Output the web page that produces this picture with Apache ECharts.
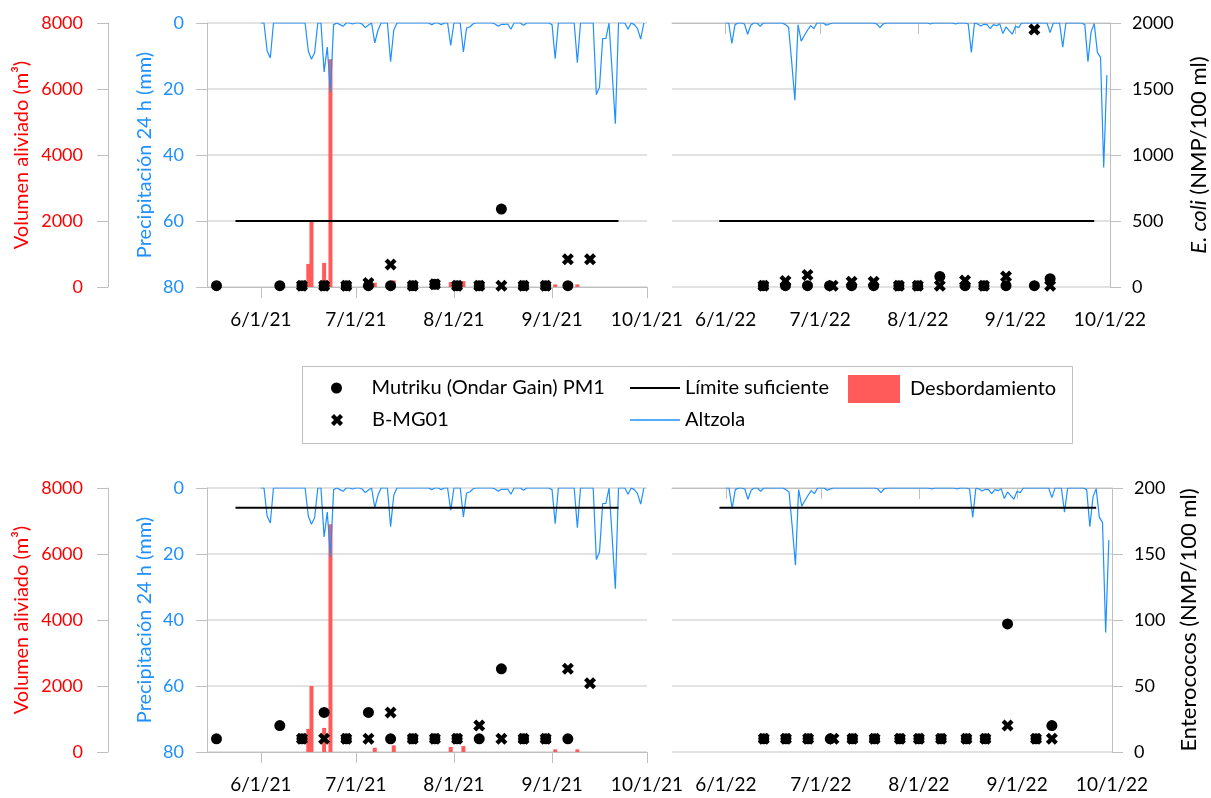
<!DOCTYPE html>
<html><head><meta charset="utf-8">
<script src="https://cdn.jsdelivr.net/npm/echarts@6/dist/echarts.min.js"></script>
<style>html,body{margin:0;padding:0;background:#fff}#c{width:1211px;height:798px}</style>
</head><body><div id="c"></div><script>
// ---------------- DATA ----------------
// Daily precipitation at Altzola (mm), 1 June .. 30 September
const precip2021 = [
 0,0,8.5,10.6,0,0,0,0,0,0, 0,0,0,0,0,8.5,11,9,0,0,
 14.8,7.3,20.9,0.5,0,0.5,1,0,0,0.3, 0,0,0.3,1.4,0.6,0,6,2.2,0,0,
 0,11.7,2.2,0,0,0,0,0,0,0, 0,0,0,0,0.5,0,0,0.5,0,0,
 6.8,0,0,0,8.8,1.5,1.2,0.3,0,0, 0,0,0,0,0.3,1,0.4,0.4,0.3,1.9,
 0,0,0,0.7,0,0,0,0,0,0, 0,0,0.5,10.8,0,0,0,0,0,0,
 12,0,0,0,0,0,21.7,19.4,4.7,4.7, 0,15,30.5,0,0,0,1.9,0,0.5,1.7,
 4.9,0
];
const precip2022 = [
 0,0,6.2,0.5,0,0,0.3,3.4,0.7,0, 0,1,0,0,0,0,0,0,0,0.5,
 1.3,12,23.4,0.5,5.5,3.8,2.2,0.8,1.7,0, 0,0,0.7,0.3,0,0,0,0,0,0,
 0,0,0,0,0,0,0,0,0.3,1.4, 0.3,0,0,0,0,0,0,0,0,0,
 0,0,0,0,0,0.3,0,0,0,0, 0,0,0,0.3,0,0,0,0.3,8.9,0,
 0.3,0.9,0.4,0.5,1.7,0.5,0.8,0.2,3.2,1.2, 2.3,3.4,1.0,1.4,0,0,0,0,0,0,
 0,0,0,2.9,0,0,0,7.3,0,0, 0,0,0,0,0.5,11.7,2.7,0.2,8.9,10.4,
 43.8,15.8
];
// Overflow volume (m3)
const overflowDates2021 = ['2021-06-16','2021-06-17','2021-06-21','2021-06-23','2021-07-07','2021-07-13','2021-07-31','2021-08-04','2021-09-02','2021-09-09'];
const overflowValues2021 = [700, 2000, 730, 6900, 130, 200, 150, 180, 80, 80];

// Mutriku (Ondar Gain) PM1 samples
const mutrikuDates2021 = ['2021-05-18','2021-06-07','2021-06-14','2021-06-21','2021-06-28','2021-07-05','2021-07-12','2021-07-19','2021-07-26','2021-08-02','2021-08-09','2021-08-16','2021-08-23','2021-08-30','2021-09-06'];
const mutrikuEcoli2021 = [10,10,10,10,10,10,10,10,20,10,10,590,10,10,10];
const mutrikuEntero2021 = [10,20,10,30,10,30,10,10,10,10,10,63,10,10,10];
const mutrikuDates2022 = ['2022-06-13','2022-06-20','2022-06-27','2022-07-04','2022-07-11','2022-07-18','2022-07-26','2022-08-01','2022-08-08','2022-08-16','2022-08-22','2022-08-29','2022-09-07','2022-09-12'];
const mutrikuEcoli2022 = [10,10,10,10,10,10,10,10,80,10,10,10,10,63];
const mutrikuEntero2022 = [10,10,10,10,10,10,10,10,10,10,10,97,10,20];

// B-MG01 samples
const bmgDates2021 = ['2021-06-14','2021-06-21','2021-06-28','2021-07-05','2021-07-12','2021-07-19','2021-07-26','2021-08-02','2021-08-09','2021-08-16','2021-08-23','2021-08-30','2021-09-06','2021-09-13'];
const bmgEcoli2021 = [10,10,10,30,170,10,20,10,10,10,10,10,210,210];
const bmgEntero2021 = [10,10,10,10,30,10,10,10,20,10,10,10,63,52];
const bmgDates2022 = ['2022-06-13','2022-06-20','2022-06-27','2022-07-05','2022-07-11','2022-07-18','2022-07-26','2022-08-01','2022-08-08','2022-08-16','2022-08-22','2022-08-29','2022-09-07','2022-09-12'];
const bmgEcoli2022 = [10,45,90,10,40,40,10,10,10,50,10,80,1950,10];
const bmgEntero2022 = [10,10,10,10,10,10,10,10,10,10,10,20,10,10];

// "Límite suficiente"
const limitDates2021 = ['2021-05-24','2021-09-22'];
const limitDates2022 = ['2022-05-30','2022-09-26'];
const ecoliLimit = 500;
const enteroLimit = 185;

// ---------------- CHART ----------------
const FONT = 'Lato, sans-serif';
const RED = '#ff0000', BLUE = '#1e90ff', BAR = '#ff5b5b', GREY = '#bfbfbf', GRID = '#d9d9d9';
const XPATH = 'path://M0,3 L3,0 L6,3 L9,0 L12,3 L9,6 L12,9 L9,12 L6,9 L3,12 L0,9 L3,6 Z';

function cats(year) {
  const out = [];
  let t = Date.UTC(year, 4, 15);
  const end = Date.UTC(year, 9, 1);
  while (t <= end) { out.push(new Date(t).toISOString().slice(0, 10)); t += 86400000; }
  return out;
}
const cats21 = cats(2021), cats22 = cats(2022);
const JUNE1 = 17;
const pairs = (dates, vals) => dates.map((d, i) => [d, vals[i]]);
const precipPairs = (c, arr) => arr.map((v, i) => [c[JUNE1 + i], v]);

const isMonth = (i, v) => typeof v === 'string' && v.slice(8) === '01' && v.slice(5, 7) !== '05';
const fmtDate = v => { const p = v.split('-'); return (+p[1]) + '/' + (+p[2]) + '/' + p[0].slice(2); };
const plain = v => String(v);

function xAxis(gi, c) {
  return {
    type: 'category', gridIndex: gi, data: c, boundaryGap: false,
    axisLine: { lineStyle: { color: GREY, width: 1 } },
    axisTick: { interval: isMonth, length: 11, lineStyle: { color: GREY } },
    axisLabel: { interval: isMonth, formatter: fmtDate, fontSize: 19, fontFamily: FONT, color: '#000', margin: 23 },
    splitLine: { show: false }
  };
}
const nameStyle = (color, size) => ({ fontSize: size, fontFamily: FONT, color: color });
function volAxis(gi) {
  return {
    type: 'value', gridIndex: gi, position: 'left', offset: 99, min: 0, max: 8000, interval: 2000,
    name: 'Volumen aliviado (m³)', nameLocation: 'middle', nameRotate: 90, nameGap: 76,
    nameTextStyle: nameStyle(RED, 20),
    axisLine: { show: true, lineStyle: { color: GREY } },
    axisTick: { show: true, length: 11, lineStyle: { color: GREY } },
    axisLabel: { color: RED, fontSize: 18, fontFamily: FONT, margin: 25, formatter: plain },
    splitLine: { show: false }
  };
}
function precipAxis(gi, visible) {
  return {
    type: 'value', gridIndex: gi, position: 'left', inverse: true, min: 0, max: 80, interval: 20,
    show: visible,
    name: 'Precipitación 24 h (mm)', nameLocation: 'middle', nameRotate: 90, nameGap: 52,
    nameTextStyle: nameStyle(BLUE, 20),
    axisLine: { show: true, lineStyle: { color: GREY } },
    axisTick: { show: true, length: 11, lineStyle: { color: GREY } },
    axisLabel: { color: BLUE, fontSize: 18, fontFamily: FONT, margin: 23, formatter: plain },
    splitLine: { show: true, lineStyle: { color: GRID, width: 1.5 } }
  };
}
function bactAxis(gi, visible, max, interval, name, gap) {
  return {
    type: 'value', gridIndex: gi, position: 'right', min: 0, max: max, interval: interval,
    show: visible,
    name: name, nameLocation: 'middle', nameRotate: 90, nameGap: gap,
    nameTextStyle: Object.assign(nameStyle('#000', 22), { rich: { i: { fontStyle: 'italic', fontSize: 22, fontFamily: FONT, color: '#000' } } }),
    axisLine: { show: true, lineStyle: { color: GREY } },
    axisTick: { show: true, length: 11, lineStyle: { color: GREY } },
    axisLabel: { color: '#000', fontSize: 18, fontFamily: FONT, margin: 22, formatter: plain },
    splitLine: { show: visible, lineStyle: { color: GRID, width: 1.5 } }
  };
}

const NAME_M = 'Mutriku (Ondar Gain) PM1', NAME_B = 'B-MG01', NAME_L = 'Límite suficiente', NAME_D = 'Desbordamiento', NAME_A = 'Altzola';

function panelSeries(xi, yVol, yPrec, yBact, precip, over, mut, bmg, limit) {
  const s = [];
  if (over) s.push({ type: 'bar', name: NAME_D, xAxisIndex: xi, yAxisIndex: yVol, data: over, barWidth: 4, itemStyle: { color: BAR, opacity: 1 }, z: 2, silent: true });
  s.push({ type: 'line', name: NAME_A, xAxisIndex: xi, yAxisIndex: yPrec, data: precip, symbol: 'none', lineStyle: { color: BLUE, width: 1.2 }, itemStyle: { color: BLUE }, z: 3, silent: true });
  s.push({ type: 'line', name: NAME_L, xAxisIndex: xi, yAxisIndex: yBact, data: limit, symbol: 'none', lineStyle: { color: '#000', width: 2 }, itemStyle: { color: '#000' }, z: 4, silent: true });
  s.push({ type: 'scatter', name: NAME_M, xAxisIndex: xi, yAxisIndex: yBact, data: mut, symbol: 'circle', symbolSize: 11, itemStyle: { color: '#000', opacity: 1 }, z: 5, silent: true });
  s.push({ type: 'scatter', name: NAME_B, xAxisIndex: xi, yAxisIndex: yBact, data: bmg, symbol: XPATH, symbolSize: 12, itemStyle: { color: '#000', opacity: 1 }, z: 6, silent: true });
  return s;
}

const overPairs = pairs(overflowDates2021, overflowValues2021);
const series = [].concat(
  panelSeries(0, 0, 1, 2, precipPairs(cats21, precip2021), overPairs,
    pairs(mutrikuDates2021, mutrikuEcoli2021), pairs(bmgDates2021, bmgEcoli2021), limitDates2021.map(d => [d, ecoliLimit])),
  panelSeries(1, null, 3, 4, precipPairs(cats22, precip2022), null,
    pairs(mutrikuDates2022, mutrikuEcoli2022), pairs(bmgDates2022, bmgEcoli2022), limitDates2022.map(d => [d, ecoliLimit])),
  panelSeries(2, 5, 6, 7, precipPairs(cats21, precip2021), overPairs,
    pairs(mutrikuDates2021, mutrikuEntero2021), pairs(bmgDates2021, bmgEntero2021), limitDates2021.map(d => [d, enteroLimit])),
  panelSeries(3, null, 8, 9, precipPairs(cats22, precip2022), null,
    pairs(mutrikuDates2022, mutrikuEntero2022), pairs(bmgDates2022, bmgEntero2022), limitDates2022.map(d => [d, enteroLimit]))
);

function legend(name, icon, left, top, w, h, pad) {
  return {
    data: [{ name: name, icon: icon }], left: left, top: top, itemWidth: w, itemHeight: h, padding: 0,
    selectedMode: false, textStyle: { fontSize: 20, fontFamily: FONT, color: '#000', padding: [0, 0, 0, pad || 0] }
  };
}

const chart = echarts.init(document.getElementById('c'), null, { renderer: 'canvas' });
chart.setOption({
  animation: false,
  backgroundColor: '#fff',
  grid: [
    { left: 207, top: 23, width: 440, height: 264 },
    { left: 672, top: 23, width: 440, height: 264 },
    { left: 207, top: 488, width: 440, height: 264 },
    { left: 672, top: 488, width: 440, height: 264 }
  ],
  xAxis: [xAxis(0, cats21), xAxis(1, cats22), xAxis(2, cats21), xAxis(3, cats22)],
  yAxis: [
    volAxis(0), precipAxis(0, true), bactAxis(0, false, 2000, 500, '', 0),
    precipAxis(1, false), bactAxis(1, true, 2000, 500, '{i|E. coli} (NMP/100 ml)', 78),
    volAxis(2), precipAxis(2, true), bactAxis(2, false, 200, 50, '', 0),
    precipAxis(3, false), bactAxis(3, true, 200, 50, 'Enterococos (NMP/100 ml)', 66)
  ],
  legend: [
    legend(NAME_M, 'circle', 331, 378, 60, 11),
    legend(NAME_B, XPATH, 331, 410, 60, 12),
    legend(NAME_L, 'rect', 630, 378, 50, 2),
    legend(NAME_A, 'rect', 630, 410, 50, 1.5),
    legend(NAME_D, 'rect', 848, 375, 52, 28, 5)
  ],
  graphic: [{ type: 'rect', left: 300, top: 364, shape: { width: 770, height: 77 }, style: { fill: 'none', stroke: GREY, lineWidth: 1 }, silent: true }],
  series: series
});
</script></body></html>
